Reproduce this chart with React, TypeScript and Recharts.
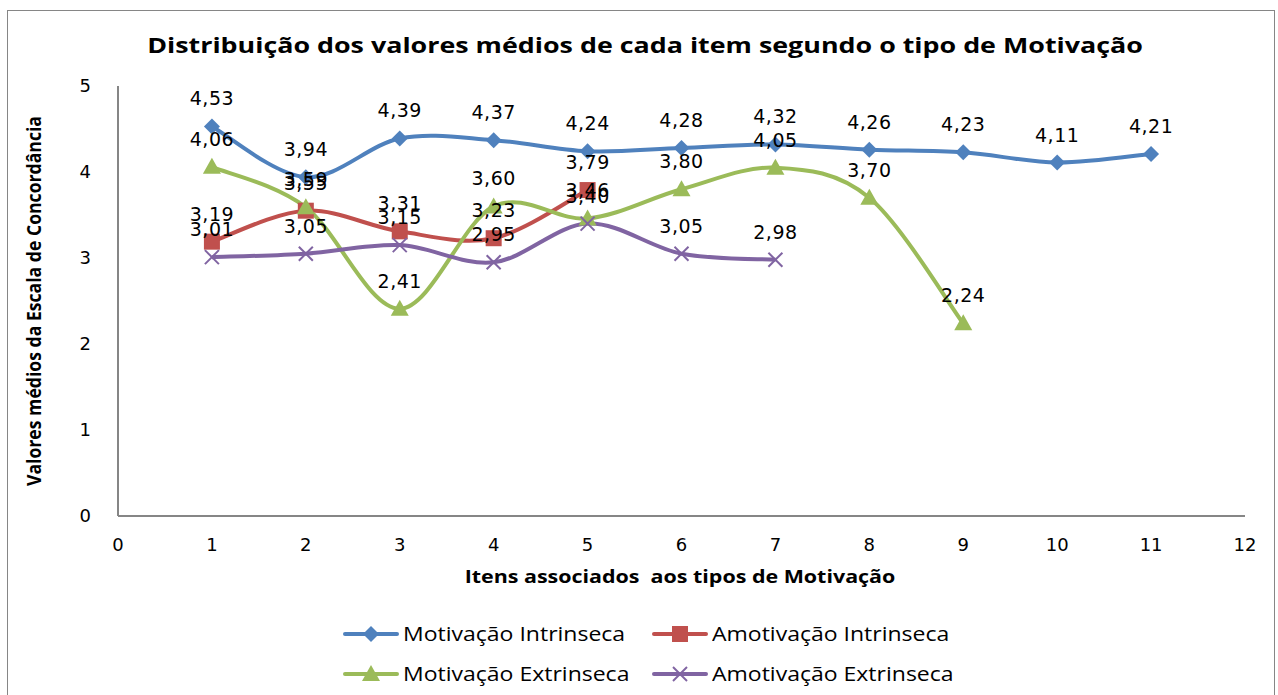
import { LineChart, Line, XAxis, YAxis, LabelList, Legend } from "recharts";

const ITEMS = [1, 2, 3, 4, 5, 6, 7, 8, 9, 10, 11];
const MOT_INTR = [4.53, 3.94, 4.39, 4.37, 4.24, 4.28, 4.32, 4.26, 4.23, 4.11, 4.21];
const AMOT_INTR = [3.19, 3.55, 3.31, 3.23, 3.79];
const MOT_EXTR = [4.06, 3.59, 2.41, 3.6, 3.46, 3.8, 4.05, 3.7, 2.24];
const AMOT_EXTR = [3.01, 3.05, 3.15, 2.95, 3.4, 3.05, 2.98];
const X_TICKS = [0, 1, 2, 3, 4, 5, 6, 7, 8, 9, 10, 11, 12];
const Y_TICKS = [0, 1, 2, 3, 4, 5];

const SERIES = [
  { key: "mi", name: "Motivação Intrinseca", color: "#4F81BD", shape: "diamond" },
  { key: "ai", name: "Amotivação Intrinseca", color: "#C0504D", shape: "square" },
  { key: "me", name: "Motivação Extrinseca", color: "#9BBB59", shape: "triangle" },
  { key: "ae", name: "Amotivação Extrinseca", color: "#8064A2", shape: "x" },
];

const data = ITEMS.map((x, i) => ({
  x,
  mi: MOT_INTR[i] ?? null,
  ai: AMOT_INTR[i] ?? null,
  me: MOT_EXTR[i] ?? null,
  ae: AMOT_EXTR[i] ?? null,
}));

const FONT = "'Open Sans', 'DejaVu Sans', sans-serif";
const NUM_FONT = "'DejaVu Sans', sans-serif";
const AXIS = "#868686";

// Excel-like smoothing (Catmull-Rom as bezier)
const smooth = (context: any) => {
  let pts: number[][] = [];
  return {
    areaStart() {},
    areaEnd() {},
    lineStart() {
      pts = [];
    },
    point(x: number, y: number) {
      pts.push([+x, +y]);
    },
    lineEnd() {
      if (!pts.length) return;
      context.moveTo(pts[0][0], pts[0][1]);
      for (let i = 0; i < pts.length - 1; i++) {
        const p0 = pts[i - 1] || pts[i];
        const p1 = pts[i];
        const p2 = pts[i + 1];
        const p3 = pts[i + 2] || p2;
        context.bezierCurveTo(
          p1[0] + (p2[0] - p0[0]) / 6,
          p1[1] + (p2[1] - p0[1]) / 6,
          p2[0] - (p3[0] - p1[0]) / 6,
          p2[1] - (p3[1] - p1[1]) / 6,
          p2[0],
          p2[1]
        );
      }
    },
  };
};

function Marker({ shape, color, cx, cy }: { shape: string; color: string; cx: number; cy: number }) {
  if (shape === "diamond")
    return <polygon points={`${cx},${cy - 8} ${cx + 8},${cy} ${cx},${cy + 8} ${cx - 8},${cy}`} fill={color} />;
  if (shape === "square") return <rect x={cx - 8} y={cy - 8} width={16} height={16} fill={color} />;
  if (shape === "triangle")
    return <polygon points={`${cx},${cy - 9} ${cx + 9},${cy + 7} ${cx - 9},${cy + 7}`} fill={color} />;
  return (
    <g stroke={color} strokeWidth={2}>
      <line x1={cx - 7} y1={cy - 7} x2={cx + 7} y2={cy + 7} />
      <line x1={cx - 7} y1={cy + 7} x2={cx + 7} y2={cy - 7} />
    </g>
  );
}

const fmt = (v: any) => (v == null ? "" : Number(v).toFixed(2).replace(".", ","));

function YTitle(props: any) {
  const vb = props.viewBox || { y: 86, height: 430 };
  const cx = 34;
  const cy = vb.y + vb.height / 2;
  return (
    <text
      x={cx}
      y={cy}
      transform={`rotate(-90, ${cx}, ${cy})`}
      textAnchor="middle"
      dominantBaseline="central"
      textLength={370}
      lengthAdjust="spacingAndGlyphs"
      style={{ fill: "#000", fontSize: 19, fontWeight: 700, fontFamily: FONT }}
    >
      Valores médios da Escala de Concordância
    </text>
  );
}

function LegendBox() {
  const pos = [
    { left: 343, top: 0 },
    { left: 652, top: 0 },
    { left: 343, top: 40 },
    { left: 652, top: 40 },
  ];
  return (
    <div style={{ position: "relative", height: 80, fontFamily: FONT, fontSize: 20 }}>
      {SERIES.map((s, i) => (
        <div key={s.key} style={{ position: "absolute", left: pos[i].left, top: pos[i].top, display: "flex", alignItems: "center" }}>
          <svg width={56} height={24}>
            <line x1={2} y1={12} x2={54} y2={12} stroke={s.color} strokeWidth={4} strokeLinecap="round" />
            <Marker shape={s.shape} color={s.color} cx={28} cy={12} />
          </svg>
          <span
            style={{
              marginLeft: 4,
              color: "#000",
              whiteSpace: "nowrap",
              display: "inline-block",
              transform: "scaleX(1.15)",
              transformOrigin: "left center",
            }}
          >
            {s.name}
          </span>
        </div>
      ))}
    </div>
  );
}

export default function App() {
  return (
    <div style={{ position: "relative", width: 1278, height: 695, background: "#fff", overflow: "hidden" }}>
      <style>{`body{margin:0}`}</style>
      <div
        style={{
          position: "absolute",
          left: 7,
          top: 10,
          width: 1268,
          height: 700,
          border: `1px solid ${AXIS}`,
          boxSizing: "border-box",
        }}
      />
      <div
        style={{
          position: "absolute",
          left: 0,
          top: 29,
          width: 1290,
          textAlign: "center",
          fontFamily: FONT,
          fontWeight: 700,
          fontSize: 22,
          color: "#000",
          transform: "scaleX(1.22)",
          transformOrigin: "645px 0",
        }}
      >
        Distribuição dos valores médios de cada item segundo o tipo de Motivação
      </div>
      <div
        style={{
          position: "absolute",
          left: 0,
          top: 564,
          width: 1360,
          textAlign: "center",
          fontFamily: FONT,
          fontWeight: 700,
          fontSize: 18,
          color: "#000",
          whiteSpace: "pre",
          transform: "scaleX(1.19)",
          transformOrigin: "680px 0",
        }}
      >
        Itens associados  aos tipos de Motivação
      </div>
      <LineChart width={1278} height={695} data={data} margin={{ top: 86, right: 33, bottom: 0, left: 0 }}>
        <XAxis
          type="number"
          dataKey="x"
          domain={[0, 12]}
          ticks={X_TICKS}
          interval={0}
          stroke={AXIS}
          strokeWidth={2}
          tickLine={false}
          tickSize={6}
          tickMargin={16}
          height={179}
          tick={{ fill: "#000", fontSize: 18, fontFamily: NUM_FONT }}
        />
        <YAxis
          type="number"
          domain={[0, 5]}
          ticks={Y_TICKS}
          interval={0}
          stroke={AXIS}
          strokeWidth={2}
          tickLine={false}
          tickSize={6}
          tickMargin={21}
          width={118}
          tick={{ fill: "#000", fontSize: 18, fontFamily: NUM_FONT }}
          label={{ content: (p: any) => <YTitle {...p} /> }}
        />
        <Legend
          verticalAlign="middle"
          layout="horizontal"
          wrapperStyle={{ top: 620, left: 0, width: 1278 }}
          content={() => <LegendBox />}
        />
        {SERIES.map((s) => (
          <Line
            key={s.key}
            dataKey={s.key}
            name={s.name}
            type={smooth as any}
            stroke={s.color}
            strokeWidth={4}
            isAnimationActive={false}
            dot={(p: any) =>
              p.value == null || p.cy == null ? (
                <g key={p.key ?? `${s.key}-${p.index}`} />
              ) : (
                <g key={p.key ?? `${s.key}-${p.index}`}>
                  <Marker shape={s.shape} color={s.color} cx={p.cx} cy={p.cy} />
                </g>
              )
            }
            activeDot={false}
          >
            <LabelList
              dataKey={s.key}
              position="top"
              offset={21}
              formatter={fmt}
              style={{ fill: "#000", fontSize: 19, fontFamily: NUM_FONT, letterSpacing: 0.5 }}
            />
          </Line>
        ))}
      </LineChart>
    </div>
  );
}
